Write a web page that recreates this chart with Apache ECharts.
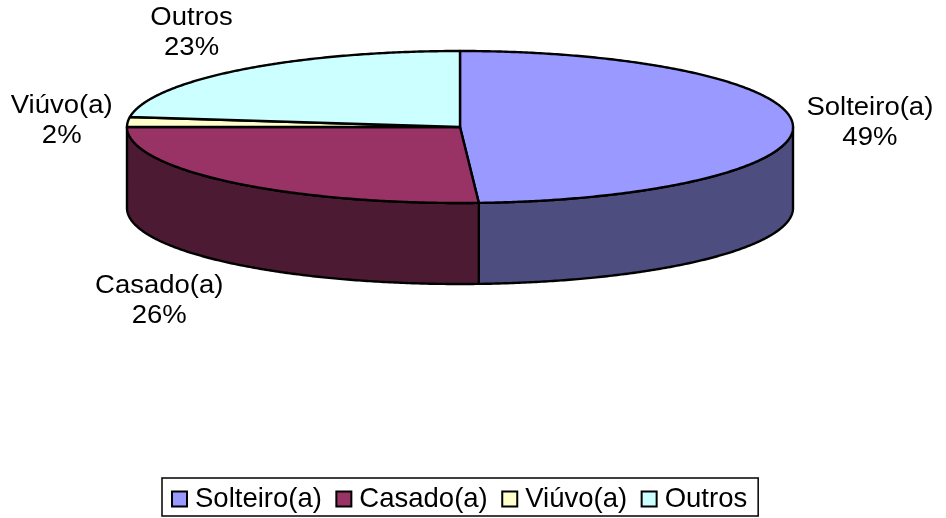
<!DOCTYPE html>
<html><head><meta charset="utf-8">
<style>html,body{margin:0;padding:0;background:#fff}#c{width:946px;height:518px}</style>
<script src="https://cdn.jsdelivr.net/npm/echarts@6/dist/echarts.min.js"></script>
</head><body><div id="c"></div>
<script>
const categories = ['Solteiro(a)', 'Casado(a)', 'Viúvo(a)', 'Outros'];
const values = [49.1, 25.9, 2.1, 22.9];
const topColors = ['#9999FF', '#993366', '#FFFFCC', '#CCFFFF'];
const sideColors = ['#4D4D80', '#4D1A33', '#808066', '#668080'];
const labelOffsets = [[77, -2], [-72, 119], [-66, -1], [-49, -37]];

const CX = 460, CY = 127, RX = 333, RY = 76, DEPTH = 81;
const FONT = '"Liberation Sans", Arial, sans-serif';
const total = values.reduce((a, b) => a + b, 0);

function pt(deg, dy) {
  const r = deg * Math.PI / 180;
  return [CX + RX * Math.sin(r), CY - RY * Math.cos(r) + (dy || 0)];
}
function arc(a, b, dy) {
  const n = Math.max(2, Math.ceil(Math.abs(b - a) * 2)), out = [];
  for (let i = 0; i <= n; i++) out.push(pt(a + (b - a) * i / n, dy));
  return out;
}
const stroke = { stroke: '#000', lineWidth: 2.4, lineJoin: 'round' };

function makeRender(idx) {
  return function (params, api) {
    const before = values.slice(0, idx).reduce((a, b) => a + b, 0);
    const start = before / total * 360;
    const end = start + api.value(0) / total * 360;
    const mid = (start + end) / 2;
    const children = [];
    const a = Math.max(start, 90), b = Math.min(end, 270);
    if (b > a) {
      children.push({
        type: 'polygon',
        shape: { points: arc(a, b, 0).concat(arc(b, a, DEPTH)) },
        style: Object.assign({ fill: sideColors[idx] }, stroke)
      });
    }
    children.push({
      type: 'polygon',
      shape: { points: [[CX, CY]].concat(arc(start, end, 0)) },
      style: Object.assign({ fill: topColors[idx] }, stroke)
    });
    const anchor = pt(mid, 0);
    children.push({
      type: 'text',
      x: anchor[0] + labelOffsets[idx][0],
      y: anchor[1] + labelOffsets[idx][1],
      scaleX: 1.1,
      style: {
        text: categories[idx] + '\n' + Math.round(api.value(0) / total * 100) + '%',
        fill: '#000', font: '25px ' + FONT, lineHeight: 30,
        align: 'center', verticalAlign: 'middle'
      }
    });
    return { type: 'group', children };
  };
}

const chart = echarts.init(document.getElementById('c'), null, { renderer: 'canvas' });
chart.setOption({
  animation: false,
  backgroundColor: '#fff',
  legend: {
    left: 162, top: 478,
    data: categories,
    icon: 'rect', itemWidth: 15, itemHeight: 15, itemGap: 13.5,
    padding: [7, 11, 3, 9],
    borderColor: '#000', borderWidth: 1.5,
    textStyle: { fontFamily: FONT, fontSize: 27.5, color: '#000', padding: [0, 0, 0, 3] },
    itemStyle: { borderColor: '#000', borderWidth: 2 }
  },
  series: categories.map((name, i) => ({
    type: 'custom',
    name,
    coordinateSystem: 'none',
    silent: true,
    z: i === 0 || i === 1 ? 2 : 3,
    itemStyle: { color: topColors[i] },
    data: [[values[i]]],
    renderItem: makeRender(i)
  }))
});
</script></body></html>
